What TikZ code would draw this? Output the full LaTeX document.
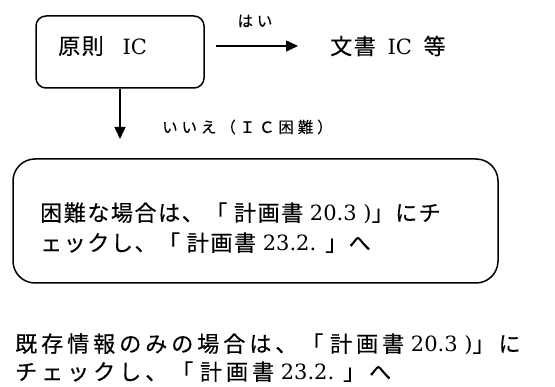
\documentclass[tikz,border=0pt]{standalone}
\usepackage{fontspec}
\setmainfont{DejaVu Serif}
\newfontfamily\cjk{Noto Sans CJK JP}[Scale=1.05, LetterSpace=7, FakeBold=0.3]
\newfontfamily\cjkb{Noto Sans CJK JP}[Scale=1.05, LetterSpace=18, FakeBold=0.3]
\newfontfamily\cjks{Noto Sans CJK JP}[LetterSpace=25, FakeBold=0.3]
\usetikzlibrary{arrows.meta}
\newcommand\J[1]{{\cjk #1}}
\newcommand\JB[1]{{\cjkb #1}}
\begin{document}
\begin{tikzpicture}[x=1pt,y=-1pt,
  rbox/.style={draw, line width=1.5pt},
  arr/.style={line width=1.5pt, -{Triangle[length=12pt,width=11pt]}},
  big/.style={inner sep=0pt, font=\fontsize{21}{26}\selectfont},
  small/.style={inner sep=0pt, font=\cjks\fontsize{15.5}{19}\selectfont}]
\useasboundingbox (0,0) rectangle (555,387);
\node[rbox, rounded corners=10pt, minimum width=168pt, minimum height=72pt] (b1) at (120,52) {};
\node[big, anchor=west] (t1) at (58,46) {\J{原則}\hspace{12pt} IC};
\node[big, anchor=west] (t2) at (330,46) {\J{文書}\hspace{5pt} IC\hspace{5pt} \J{等}};
\node[small] (yes) at (255,21) {はい};
\coordinate (ys) at (216,46);
\draw[arr] (ys) -- ([xshift=-32pt]t2.west);
\coordinate (ne) at (120,139);
\draw[arr] (b1.south) -- (ne);
\node[small, anchor=west] (no) at (162,127) {いいえ（ＩＣ困難）};
\node[rbox, rounded corners=22pt, minimum width=485pt, minimum height=124pt] (b2) at (255.5,221) {};
\node[big, anchor=base west] (l1) at (40,221) {\J{困難な場合は、「} \J{計画書} 20.3 )\J{」にチ}};
\node[big, anchor=base west] (l2) at (40,251) {\J{ェックし、「} \J{計画書} 23.2. \J{」へ}};
\node[big, anchor=base west] (m1) at (15,352) {\JB{既存情報のみの場合は、「} \JB{計画書} 20.3 )\JB{」に}};
\node[big, anchor=base west] (m2) at (15,380) {\JB{チェックし、「} \JB{計画書} 23.2. \JB{」へ}};
\end{tikzpicture}
\end{document}
